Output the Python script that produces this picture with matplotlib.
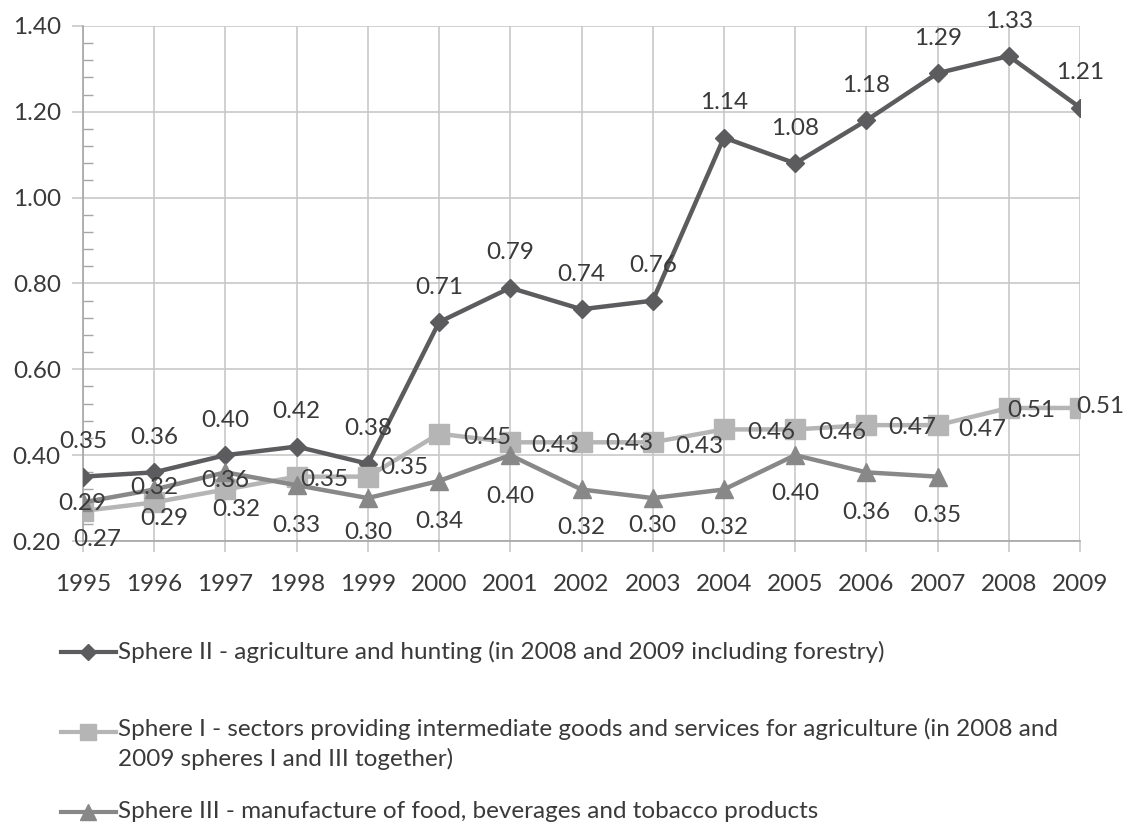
import matplotlib.pyplot as plt
from matplotlib.lines import Line2D
import numpy as np

plt.rcParams['font.family'] = ['Lato', 'DejaVu Sans']

# data
years = list(range(1995, 2010))
sphere2 = [0.35, 0.36, 0.40, 0.42, 0.38, 0.71, 0.79, 0.74, 0.76, 1.14, 1.08, 1.18, 1.29, 1.33, 1.21]
sphere1 = [0.27, 0.29, 0.32, 0.35, 0.35, 0.45, 0.43, 0.43, 0.43, 0.46, 0.46, 0.47, 0.47, 0.51, 0.51]
years3 = list(range(1995, 2008))
sphere3 = [0.29, 0.32, 0.36, 0.33, 0.30, 0.34, 0.40, 0.32, 0.30, 0.32, 0.40, 0.36, 0.35]

labels = [
    'Sphere II - agriculture and hunting (in 2008 and 2009 including forestry)',
    'Sphere I - sectors providing intermediate goods and services for agriculture (in 2008 and\n2009 spheres I and III together)',
    'Sphere III - manufacture of food, beverages and tobacco products',
]

c2 = '#5c5c5e'
c1 = '#b5b5b5'
c3 = '#888888'
txt = '#3a3a3a'
grid = '#c8c8c8'
fs = 17.5

# label offsets in pixels (dx, dy), dy positive = down
off2 = [(0, -35)] * 15
off1 = [(14, 29), (10, 16), (11, 20), (28, 3), (36, -9), (48, 4), (45, 3), (48, 1),
        (47, 4), (47, 3), (47, 3), (46, 2), (45, 4), (23, 3), (20, -1)]
off3 = [(-1, 1), (0, -2), (0, 8), (0, 40), (0, 34), (0, 41), (0, 41), (0, 38),
        (0, 27), (0, 38), (0, 38), (0, 40), (0, 39)]

fig = plt.figure(figsize=(11.3, 8.25), dpi=100)
ax = fig.add_axes([83 / 1130, 1 - 541 / 825, (1080 - 83) / 1130, (541 - 26) / 825])

l2, = ax.plot(years, sphere2, color=c2, lw=3.2, marker='D', ms=9.5, zorder=3)
l1, = ax.plot(years, sphere1, color=c1, lw=3.2, marker='s', ms=14, zorder=4)
l3, = ax.plot(years3, sphere3, color=c3, lw=3.2, marker='^', ms=13, zorder=5)

for xs, ys, offs in [(years, sphere2, off2), (years, sphere1, off1), (years3, sphere3, off3)]:
    for x, y, (dx, dy) in zip(xs, ys, offs):
        ax.annotate(f'{y:.2f}', (x, y), xytext=(dx, -dy), textcoords='offset pixels',
                    ha='center', va='center', fontsize=fs, color=txt, zorder=10)

ax.set_xlim(1995, 2009)
ax.set_ylim(0.2, 1.4)
ax.set_xticks(years)
ax.set_yticks(np.arange(0.2, 1.41, 0.2))
ax.set_yticks(np.arange(0.2, 1.41, 0.04), minor=True)
ax.yaxis.set_major_formatter(plt.FuncFormatter(lambda v, p: f'{v:.2f}'))
ax.grid(True, which='major', color=grid, lw=1.2)
ax.set_axisbelow(True)
for s in ['top', 'right']:
    ax.spines[s].set_visible(False)
for s in ['left', 'bottom']:
    ax.spines[s].set_color('#a6a6a6')
    ax.spines[s].set_linewidth(1.2)
ax.tick_params(axis='both', which='major', labelsize=fs, labelcolor=txt, color=grid,
               length=8, width=1.2)
ax.tick_params(axis='x', pad=16)
ax.tick_params(axis='y', pad=8)
ax.tick_params(axis='y', which='minor', direction='in', length=7, color='#a6a6a6', width=1)
ax.tick_params(axis='x', which='minor', bottom=False)

# legend drawn by hand so the uneven spacing matches
leg_y = [652, 732, 812]
for line, lab, y, ms in zip([l2, l1, l3], labels, leg_y, [8, 12, 12]):
    yf = 1 - y / 825
    fig.add_artist(Line2D([61 / 1130, 116 / 1130], [yf, yf], color=line.get_color(), lw=3))
    fig.add_artist(Line2D([88 / 1130], [yf], color=line.get_color(), marker=line.get_marker(),
                          ms=ms, lw=0))
    fig.text(118 / 1130, yf, lab, fontsize=fs, color=txt, va='top' if '\n' in lab else 'center',
             linespacing=1.45)
fig.texts[-2].set_y(1 - (732 - 14) / 825)

fig.savefig('out.png', dpi=100)
